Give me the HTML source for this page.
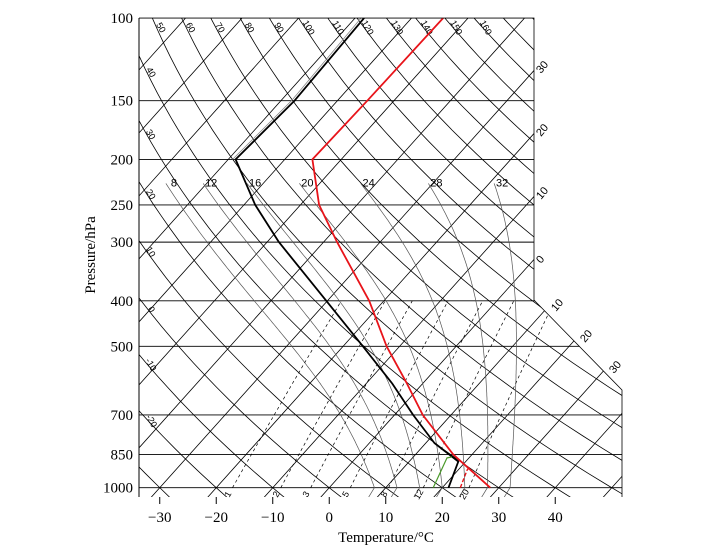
<!DOCTYPE html>
<html><head><meta charset="utf-8"><style>
html,body{margin:0;padding:0;background:#fff;}
svg{display:block;}
.ax{font-family:"Liberation Serif",serif;font-size:15px;fill:#000;}
.sm{font-family:"Liberation Sans",sans-serif;font-size:9px;fill:#000;}
.md{font-family:"Liberation Sans",sans-serif;font-size:11px;fill:#000;}
</style></head><body>
<svg id="chart" width="712" height="550" viewBox="0 0 712 550" xmlns="http://www.w3.org/2000/svg">
<defs><clipPath id="plotclip"><polygon points="139,18 534,18 534,300 622,390 622,497 139,497"/></clipPath></defs>
<g id="grid" clip-path="url(#plotclip)"></g>
<g id="labels"></g>
<g id="series" clip-path="url(#plotclip)"></g>
<g id="axes"></g>
<text class="ax" x="95" y="255" text-anchor="middle" transform="rotate(-90 95 255)">Pressure/hPa</text>
<text class="ax" x="386" y="542" text-anchor="middle">Temperature/°C</text>
<line x1="139" y1="18" x2="139" y2="497" stroke="#000" stroke-width="1"/>
<polyline points="139,18 534,18 534,300 622,390 622,497" fill="none" stroke="#000" stroke-width="0.8"/>
</svg>
<script>
const pressureLevels=[100,150,200,250,300,400,500,700,850,1000];
const xTicks=[-30,-20,-10,0,10,20,30,40];
const isotherms=[-160,-150,-140,-130,-120,-110,-100,-90,-80,-70,-60,-50,-40,-30,-20,-10,0,10,20,30,40,50];
const dryAdiabats=[-40,-30,-20,-10,0,10,20,30,40,50,60,70,80,90,100,110,120,130,140,150,160,170,180,190,200];
const moistAdiabats=[8,12,16,20,24,28,32];
const mixingRatios=[1,2,3,5,8,12,20];
const envP=[100,150,200,250,300,400,500,600,700,850,1000];
const envT=[-54.4,-54.7,-55.1,-46.7,-37.6,-22.6,-12.3,-2.8,5.0,16.7,28.5];
const parP=[100,150,200,250,300,400,500,600,700,803,880,1000];
const parT=[-68.4,-67.6,-68.7,-58.0,-47.9,-30.2,-16.5,-5.4,3.3,11.5,18.7,21.1];
const dewP=[1000,864,860];
const dewT=[18.4,16.1,16.8];
const redDashP=[1000,917,899];
const redDashT=[23.2,21.6,21.5];

const NS='http://www.w3.org/2000/svg';
function yP(p){return 18+204*Math.log(p/100);}
function xT(t,p){return 329+5.65*t+0.897*(488-yP(p));}
function mk(tag,attrs,parent){const e=document.createElementNS(NS,tag);for(const k in attrs)e.setAttribute(k,attrs[k]);parent.appendChild(e);return e;}
const grid=document.getElementById('grid'),labels=document.getElementById('labels'),series=document.getElementById('series'),axes=document.getElementById('axes');
function pathFrom(pts){return pts.map((q,i)=>(i?'L':'M')+q[0].toFixed(1)+','+q[1].toFixed(1)).join(' ');}
function logPs(p0,p1,n){const a=[];for(let i=0;i<=n;i++)a.push(p0*Math.pow(p1/p0,i/n));return a;}

pressureLevels.forEach(p=>{
  const l=mk('line',{x1:139,x2:622,y1:yP(p),y2:yP(p),stroke:'#000','stroke-width':0.9},grid);
  
  
  const t=mk('text',{x:133,y:yP(p)+5,'text-anchor':'end',class:'ax'},axes);t.textContent=p;
  
  
});
isotherms.forEach(T=>{
  const l=mk('line',{x1:xT(T,1050),y1:yP(1050),x2:xT(T,95),y2:yP(95),stroke:'#000','stroke-width':0.8},grid);
  
  
});
dryAdiabats.forEach(th=>{
  const pts=logPs(1050,95,40).map(p=>{const T=(th+273.15)*Math.pow(p/1000,0.286)-273.15;return [xT(T,p),yP(p)];});
  const l=mk('path',{d:pathFrom(pts),fill:'none',stroke:'#000','stroke-width':0.8},grid);
  
  
  let lab=null;
  for(const p of logPs(100,1000,400)){const T=(th+273.15)*Math.pow(p/1000,0.286)-273.15;const x=xT(T,p),y=yP(p);
    if(y>=24&&x>=145&&x<=520&&y<=470){lab=[x,y];break;}}
  if(lab&&th<=160){const t=mk('text',{x:lab[0]+3,y:lab[1]+4,class:'sm','text-anchor':'middle',transform:`rotate(60 ${lab[0]+3} ${lab[1]+4})`},labels);t.textContent=th;
    
    }
});
function es(T){return 6.112*Math.exp(17.67*T/(T+243.5));}
moistAdiabats.forEach(tw=>{
  let T=tw+273.15,p=1000;const pts=[];
  pts.push([xT(tw+0.5,1050),yP(1050)]);
  while(p>=225){pts.push([xT(T-273.15,p),yP(p)]);
    const e=es(T-273.15),rs=0.622*e/(p-e);
    const dTdp=(287*T+2.5e6*rs)/(p*(1004+2.5e6*2.5e6*rs*0.622/(287*T*T)));
    T-=dTdp*5;p-=5;}
  const l=mk('path',{d:pathFrom(pts),fill:'none',stroke:'#555','stroke-width':0.7},grid);
  
  
  const top=pts[pts.length-1];
  const t=mk('text',{x:top[0]+8,y:top[1]+3,class:'md','text-anchor':'middle'},labels);t.textContent=tw;
  
  
});
mixingRatios.forEach(w=>{
  const pts=logPs(1000,400,20).map(p=>{const e=w*p/(622+w),L=Math.log(e/6.112),T=243.5*L/(17.67-L);return [xT(T,p),yP(p)];});
  const l=mk('path',{d:pathFrom(pts),fill:'none',stroke:'#000','stroke-width':0.7,'stroke-dasharray':'3,3'},grid);
  
  
  const b=pts[0];
  const t=mk('text',{x:b[0]-2,y:b[1]+8,class:'sm','text-anchor':'middle',transform:`rotate(-60 ${b[0]-2} ${b[1]+8})`},labels);t.textContent=w;
  
  
});
[[30,541,74],[20,541,137],[10,541,200],[0,541,264],[10,556,312],[20,585,343],[30,614,374]].forEach(a=>{
  const t=mk('text',{x:a[1],y:a[2],class:'md',transform:`rotate(-50 ${a[1]} ${a[2]})`},labels);t.textContent=a[0];
  
  
});
xTicks.forEach(T=>{
  const x=xT(T,1000);
  const l=mk('line',{x1:x,x2:x,y1:497,y2:504,stroke:'#000','stroke-width':1},axes);
  
  
  const t=mk('text',{x:x,y:522,'text-anchor':'middle',class:'ax'},axes);t.textContent=(T<0?'\u2212':'')+Math.abs(T);
  
  
});
function line(P,T,color,w,name,dash,dx){
  const pts=P.map((p,i)=>[xT(T[i],p)+(dx||0),yP(p)]);
  const a={d:pathFrom(pts),fill:'none',stroke:color,'stroke-width':w,'stroke-linejoin':'round'};
  if(dash)a['stroke-dasharray']=dash;
  const e=mk('path',a,series);
  
  
}
line(parP.slice(0,3),parT.slice(0,3),'#888',0.8,'parcel-shadow-line',null,-3);
line(envP,envT,'#e8141a',1.8,'environment-temperature-line');
line(parP,parT,'#000',1.8,'parcel-temperature-line');
line(dewP,dewT,'#4a9a2a',1.2,'dewpoint-line');
line(redDashP,redDashT,'#e8141a',1.4,'surface-temperature-segment','4,2');
</script>
</body></html>
